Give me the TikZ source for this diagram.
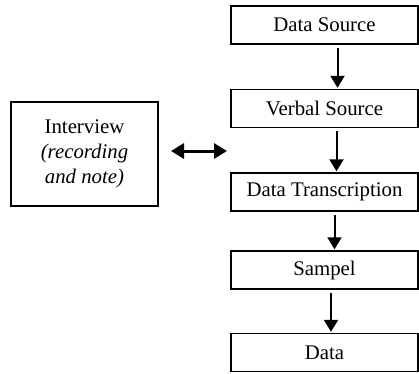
\documentclass[tikz,border=0pt]{standalone}
\usepackage{fontspec}
\setmainfont{Liberation Serif}
\usetikzlibrary{arrows.meta}
\begin{document}
\begin{tikzpicture}[x=1pt,y=1pt,
  box/.style={draw, line width=1.4pt, minimum width=187pt, minimum height=38pt, inner sep=0pt,
    font=\fontsize{20.8}{25}\selectfont},
  flow/.style={line width=2pt, -{Triangle[length=12pt,width=14pt]}, shorten <=3pt, shorten >=1pt},
  biarrow/.style={line width=3pt, {Triangle[length=13pt,width=15pt]}-{Triangle[length=13pt,width=15pt]}}]
\useasboundingbox (0,0) rectangle (419,373);
\node[box] (ds) at (324.5,348) {Data Source};
\node[box] (vs) at (324.5,264.5) {Verbal Source};
\node[box] (dt) at (324.5,181) {Data Transcription};
\node[box] (sa) at (324.5,103) {Sampel};
\node[box] (da) at (324.5,20.5) {Data};
\node[draw, line width=1.4pt, minimum width=147pt, minimum height=104pt, inner sep=0pt, align=center,
  font=\fontsize{20.8}{25}\selectfont] (iv) at (84.5,219) {Interview\\\textit{(recording}\\\textit{and note)}};
\draw[flow] ([xshift=13pt]ds.south) -- ([xshift=13pt]vs.north);
\draw[flow] ([xshift=12pt]vs.south) -- ([xshift=12pt]dt.north);
\draw[flow] ([xshift=10pt]dt.south) -- ([xshift=10pt]sa.north);
\draw[flow] ([xshift=6.5pt]sa.south) -- ([xshift=6.5pt]da.north);
\coordinate (la) at (171,222);
\coordinate (ra) at (227,222);
\draw[biarrow] (la) -- (ra);
\end{tikzpicture}
\end{document}
